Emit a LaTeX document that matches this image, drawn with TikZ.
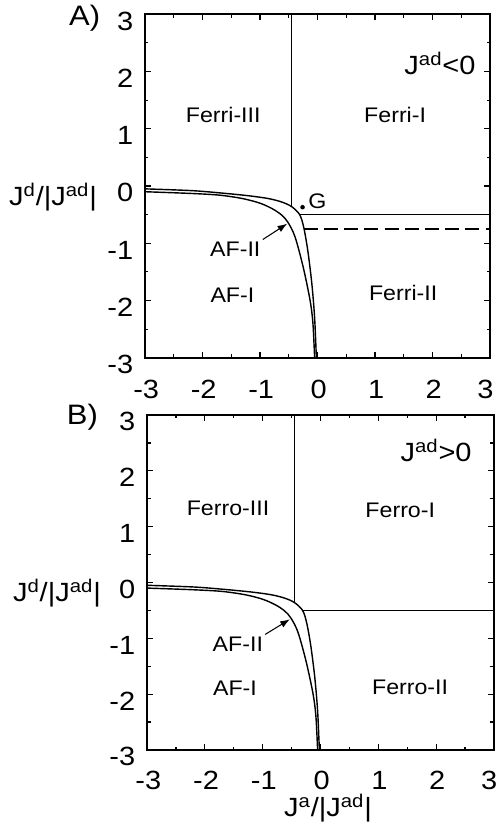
\documentclass[tikz,border=0pt]{standalone}
\usepackage{fontspec}
\setmainfont{Liberation Sans}[FakeStretch=1.1]
\usetikzlibrary{arrows.meta,positioning}
\tikzset{
myFrame/.style={line width=1.1pt}
, myTick/.style={line width=0.6pt}
, myPhase/.style={line width=0.8pt}
, myTickLabel/.style={font=\fontsize{15}{15}\selectfont, inner sep=0pt}
, myRegion/.style={font=\fontsize{12}{12}\selectfont, inner sep=1pt}
, myAxisLabel/.style={font=\fontsize{15}{15}\selectfont, inner sep=0pt}
, myPanelLabel/.style={font=\fontsize{16}{16}\selectfont, inner sep=0pt}
% link
, myArrow/.style={-{Latex[length=5.5pt,width=4pt]},line width=0.6pt}
, myDot/.style={circle,fill,inner sep=0pt,minimum size=2.6pt}
}
% frame, ticks, tick labels, phase boundaries
\newcommand{\myPanel}{%
	\draw[myFrame] (-3,-3) rectangle (3,3);
	\foreach \t in {-2,...,2}
		\draw[myTick] (\t,-3) -- ++(0,0.1) (\t,3) -- ++(0,-0.1)
			(-3,\t) -- ++(0.1,0) (3,\t) -- ++(-0.1,0);
	\foreach \t in {-2.5,-1.5,...,2.5}
		\draw[myTick] (\t,-3) -- ++(0,0.06) (\t,3) -- ++(0,-0.06)
			(-3,\t) -- ++(0.06,0) (3,\t) -- ++(-0.06,0);
	\foreach \t in {-3,...,3} {
		\node[myTickLabel,anchor=east] (yl\t) at (-3.2,\t-0.12) {\t};
		\node[myTickLabel,anchor=north] (xl\t) at ({\t+0.02-0.1*(\t==3)},-3.38) {\t};
	}
	% boundaries
	\draw[myPhase] plot[smooth] coordinates {(-3,-0.05) (-2.2,-0.08) (-1.7,-0.12)
		(-1.2,-0.17) (-0.85,-0.22) (-0.62,-0.28) (-0.45,-0.36) (-0.31,-0.5)
		(-0.24,-0.72) (-0.17,-1.12) (-0.10,-1.69) (-0.05,-2.3) (-0.02,-3)};
	\draw[myPhase] plot[smooth] coordinates {(-3,-0.10) (-2.2,-0.13) (-1.7,-0.16)
		(-1.3,-0.22) (-1.0,-0.30) (-0.78,-0.40) (-0.62,-0.51) (-0.51,-0.64)
		(-0.39,-0.89) (-0.25,-1.41) (-0.13,-1.99) (-0.08,-2.39) (-0.05,-3)};
	\coordinate (vBot) at (-0.45,-0.36);
	\coordinate (vTop) at (-0.45,3);
	\coordinate (hLeft) at (-0.31,-0.5);
	\coordinate (hRight) at (3,-0.5);
	\coordinate (afTip) at (-0.53,-0.66);
	\draw[myPhase] (vBot) -- (vTop);
	\draw[myPhase] (hLeft) -- (hRight);
	\node[myRegion] (afOne) at (-1.48,-1.9) {AF-I};
	\node[myRegion] (afTwo) at (-1.43,-1.1) {AF-II};
	\draw[myArrow] (afTwo.north east) to (afTip);
}

\begin{document}
\begin{tikzpicture}[x=0.02cm,y=-0.02cm]
	\useasboundingbox (0,0) rectangle (500,835);

	% panel A
	\begin{scope}[name prefix=A-, shift={(317.5,186)}, xscale=57.5, yscale=-57.3]
		\myPanel
		\coordinate (dLeft) at (-0.24,-0.75);
		\coordinate (dRight) at (3,-0.75);
		\draw[myPhase, dash pattern=on 8pt off 3.5pt] (dLeft) -- (dRight);
		\node[myDot] (gDot) at (-0.26,-0.37) {};
		\node[myRegion, above right=-3pt and 1pt of gDot] (gLab) {G};
		\node[myRegion] (ferriThree) at (-1.64,1.24) {Ferri-III};
		\node[myRegion] (ferriOne) at (1.35,1.24) {Ferri-I};
		\node[myRegion] (ferriTwo) at (1.49,-1.87) {Ferri-II};
		\node[myAxisLabel] (sign) at (2.13,2.14) {J\textsuperscript{ad}<0};
		\node[myPanelLabel] (panel) at (-4.05,2.93) {A)};
		\node[myAxisLabel] (yLab) at (-4.6,-0.2) {J\textsuperscript{d}/|J\textsuperscript{ad}|};
	\end{scope}

	% panel B
	\begin{scope}[name prefix=B-, shift={(320.5,582.5)}, xscale=57.8, yscale=-55.8]
		\myPanel
		\node[myRegion] (ferroThree) at (-1.6,1.33) {Ferro-III};
		\node[myRegion] (ferroOne) at (1.38,1.3) {Ferro-I};
		\node[myRegion] (ferroTwo) at (1.55,-1.87) {Ferro-II};
		\node[myAxisLabel] (sign) at (2.0,2.37) {J\textsuperscript{ad}>0};
		\node[myPanelLabel] (panel) at (-4.12,2.97) {B)};
		\node[myAxisLabel] (yLab) at (-4.56,-0.19) {J\textsuperscript{d}/|J\textsuperscript{ad}|};
		\node[myAxisLabel] (xLab) at (0.13,-4.05) {J\textsuperscript{a}/|J\textsuperscript{ad}|};
	\end{scope}
\end{tikzpicture}
\end{document}
